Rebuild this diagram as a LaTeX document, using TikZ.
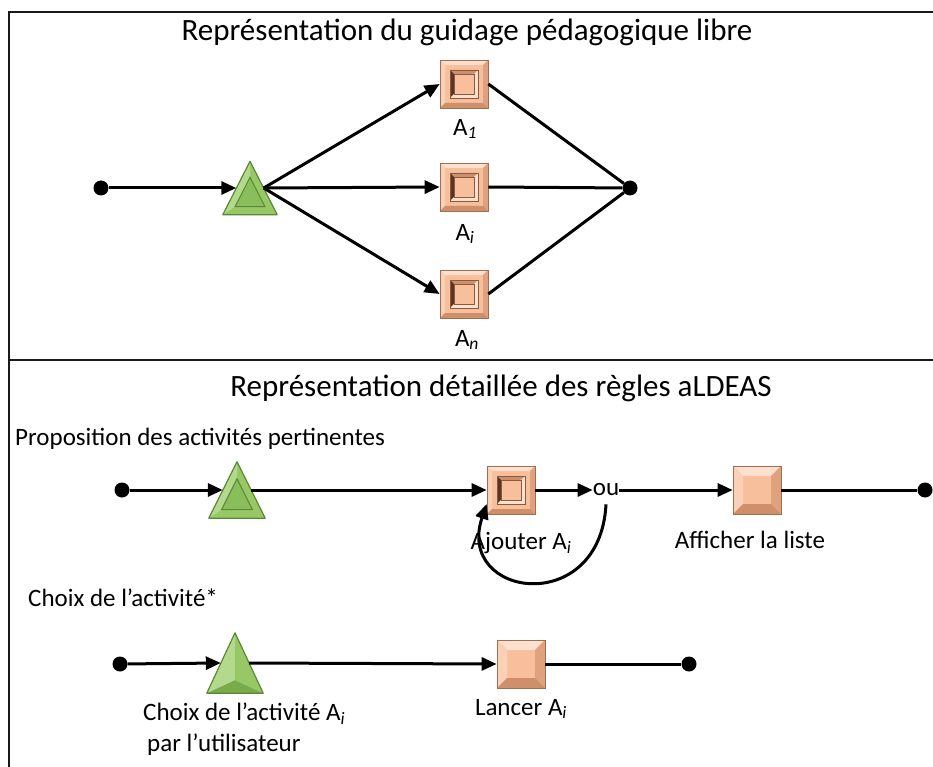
\documentclass[tikz,border=0pt]{standalone}
\usepackage{fontspec}
\setmainfont{Carlito}
\usetikzlibrary{arrows.meta,calc}
\definecolor{boxface}{HTML}{F8BF9C}
\definecolor{bxlight}{HTML}{FDE0CE}
\definecolor{bxlighttwo}{HTML}{FAD0B6}
\definecolor{bxdark}{HTML}{E0A27E}
\definecolor{bxdarktwo}{HTML}{CF8F6A}
\definecolor{bxdeep}{HTML}{5B3422}
\definecolor{bxline}{HTML}{8A5A40}
\definecolor{boxedge}{HTML}{A06E50}
\definecolor{trifill}{HTML}{98C866}
\definecolor{triedge}{HTML}{5A8834}
\definecolor{trimid}{HTML}{8ABD5B}
\definecolor{trilight}{HTML}{B3DA8C}
\definecolor{tridark}{HTML}{7AAB4B}
% triangle drawn round an invisible node (#1), #2 = quarter of the base
\newcommand\tricorners[2]{%
  \coordinate (#1-A) at (#1.north);
  \coordinate (#1-B) at ($(#1.south west)+(-#2,0)$);
  \coordinate (#1-C) at ($(#1.south east)+(#2,0)$);
  \coordinate (#1-G) at ($(#1-A)!2/3!($(#1-B)!0.5!(#1-C)$)$);}
\newcommand\bevtri[2]{%
  \tricorners{#1}{#2}
  \fill[trifill] (#1-A) -- (#1-B) -- (#1-C) -- cycle;
  \fill[trilight] (#1-A) -- (#1-B) -- ($(#1-G)!0.55!(#1-B)$) -- ($(#1-G)!0.55!(#1-A)$) -- cycle;
  \filldraw[trimid, draw=triedge, line width=1pt] ($(#1-G)!0.55!(#1-A)$) -- ($(#1-G)!0.55!(#1-B)$) -- ($(#1-G)!0.55!(#1-C)$) -- cycle;
  \draw[triedge, line width=1.2pt, line join=round] (#1-A) -- (#1-B) -- (#1-C) -- cycle;}
\newcommand\pyrtri[2]{%
  \tricorners{#1}{#2}
  \coordinate (#1-P) at ($(#1-G)!0.35!($(#1-B)!0.5!(#1-C)$)$);
  \fill[trilight] (#1-A) -- (#1-B) -- (#1-P) -- cycle;
  \fill[trifill] (#1-A) -- (#1-C) -- (#1-P) -- cycle;
  \fill[tridark] (#1-B) -- (#1-C) -- (#1-P) -- cycle;
  \draw[triedge, line width=1.2pt, line join=round] (#1-A) -- (#1-B) -- (#1-C) -- cycle;}
\begin{document}
\begin{tikzpicture}[x=1pt,y=-1pt,
  frame/.style={line width=2.6pt, draw=black!90},
  conn/.style={line width=3pt, draw=black},
  arr/.style={conn, -{Triangle[length=15pt,width=13pt]}},
  dot/.style={circle, fill=black, minimum size=15pt, inner sep=0},
  title/.style={font=\fontsize{31}{36}\selectfont, inner sep=0},
  head/.style={font=\fontsize{25}{30}\selectfont, inner sep=0, anchor=west},
  lab/.style={font=\fontsize{25}{30}\selectfont, inner sep=0},
  trinode/.style={rectangle, inner sep=0, draw=none, minimum width=28pt, minimum height=#1},
  boxbase/.style={rectangle, minimum size=48pt, inner sep=0, fill=boxface, draw=boxedge, line width=0.7pt},
  abox/.style={boxbase, path picture={
    \begin{scope}[shift={(path picture bounding box.center)}]
      \fill[bxlight] (-24pt,24pt) -- (24pt,24pt) -- (19pt,19pt) -- (-19pt,19pt) -- cycle;
      \fill[bxlighttwo] (-24pt,24pt) -- (-19pt,19pt) -- (-19pt,-19pt) -- (-24pt,-24pt) -- cycle;
      \fill[bxdark] (24pt,24pt) -- (24pt,-24pt) -- (19pt,-19pt) -- (19pt,19pt) -- cycle;
      \fill[bxdarktwo] (-24pt,-24pt) -- (24pt,-24pt) -- (19pt,-19pt) -- (-19pt,-19pt) -- cycle;
      \fill[bxdarktwo] (-14pt,14pt) -- (14pt,14pt) -- (10pt,10pt) -- (-10pt,10pt) -- cycle;
      \fill[bxdeep] (-14pt,14pt) -- (-10pt,10pt) -- (-10pt,-10pt) -- (-14pt,-14pt) -- cycle;
      \fill[bxlight] (14pt,14pt) -- (14pt,-14pt) -- (10pt,-10pt) -- (10pt,10pt) -- cycle;
      \fill[bxlight] (-14pt,-14pt) -- (14pt,-14pt) -- (10pt,-10pt) -- (-10pt,-10pt) -- cycle;
      \draw[bxline, line width=0.8pt] (-14pt,-14pt) rectangle (14pt,14pt);
      \draw[bxline, line width=0.5pt] (-10pt,-10pt) rectangle (10pt,10pt);
    \end{scope}}},
  pbox/.style={boxbase, path picture={
    \begin{scope}[shift={(path picture bounding box.center)}]
      \fill[bxlight] (-24pt,24pt) -- (24pt,24pt) -- (14pt,14pt) -- (-14pt,14pt) -- cycle;
      \fill[bxlighttwo] (-24pt,24pt) -- (-14pt,14pt) -- (-14pt,-14pt) -- (-24pt,-24pt) -- cycle;
      \fill[bxdark] (24pt,24pt) -- (24pt,-24pt) -- (14pt,-14pt) -- (14pt,14pt) -- cycle;
      \fill[bxdarktwo] (-24pt,-24pt) -- (24pt,-24pt) -- (14pt,-14pt) -- (-14pt,-14pt) -- cycle;
    \end{scope}}}
]
\useasboundingbox (0,0) rectangle (933,767);
\fill[white] (0,0) rectangle (933,767);
% frame
\draw[frame] (933,12) -- (9,12) -- (9,767);
\draw[frame] (9,360) -- (933,360);

% ---------- upper part ----------
\node[title] (h1) at (467,32) {Représentation du guidage pédagogique libre};
\node[dot] (s1) at (101,188) {};
\node[trinode=53pt, minimum width=27pt] (t1) at (250,188) {};
\bevtri{t1}{13.5}
\node[abox] (a1) at (464,84) {};
\node[abox] (ai) at (464,187) {};
\node[abox] (an) at (464,294) {};
\node[dot] (e1) at (630,188) {};
\node[lab] (la1) at (465,129) {A\textsubscript{\textit{1}}};
\node[lab] (lai) at (465,234) {A\textsubscript{\textit{i}}};
\node[lab] (lan) at (467,340) {A\textsubscript{\textit{n}}};
\draw[arr] (s1) -- (t1.west);
\draw[arr] (t1.east) -- (a1.west);
\draw[arr] (t1.east) -- (ai.west);
\draw[arr] (t1.east) -- (an.west);
\draw[conn] (a1.east) -- (e1);
\draw[conn] (ai.east) -- (e1);
\draw[conn] (an.east) -- (e1);

% ---------- lower part ----------
\node[title] (h2) at (501,388) {Représentation détaillée des règles aLDEAS};
\node[head] (p1) at (15,439) {Proposition des activités pertinentes};
\node[dot] (s2) at (122,490) {};
\node[trinode=56pt] (t2) at (237,490) {};
\bevtri{t2}{14}
\node[abox] (aj) at (511,490) {};
\node[lab] (ou) at (606,490) {ou};
\node[pbox] (af) at (757,490) {};
\node[dot] (e2) at (925,490) {};
\node[lab] (lj) at (521,543) {Ajouter A\textsubscript{\textit{i}}};
\node[lab] (laf) at (750,540) {Afficher la liste};
\draw[arr] (s2) -- (t2.west);
\draw[arr] (t2.east) -- (aj.west);
\draw[arr] (aj.east) -- (ou.west);
\draw[arr] (ou.east) -- (af.west);
\draw[conn] (af.east) -- (e2);
\draw[arr] ($(ou.south)+(0,8)$) .. controls (600,618) and (455,598) .. ($(aj.west)+(0,14)$);

\node[head] (p2) at (28,598) {Choix de l’activité*};
\node[dot] (s3) at (120,664) {};
\node[trinode=60pt] (t3) at (235,663) {};
\pyrtri{t3}{14}
\node[pbox] (ln) at (521,664) {};
\node[dot] (e3) at (689,664) {};
\node[lab, align=left, anchor=west, font=\fontsize{25}{31}\selectfont] (lc) at (143,729) {Choix de l’activité A\textsubscript{\textit{i}}\\\hspace*{4pt}par l’utilisateur};
\node[lab] (lla) at (521,709) {Lancer A\textsubscript{\textit{i}}};
\draw[arr] (s3) -- (t3.west);
\draw[arr] (t3.east) -- (ln.west);
\draw[conn] (ln.east) -- (e3);
\end{tikzpicture}
\end{document}
